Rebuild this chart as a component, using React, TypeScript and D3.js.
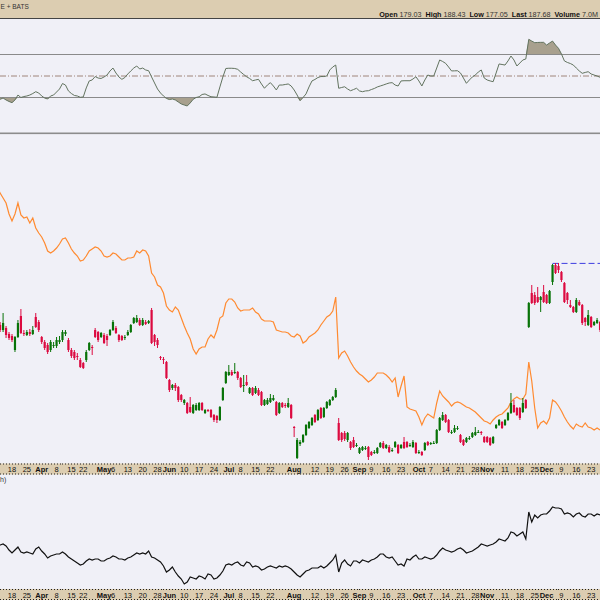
import React from 'react';
import * as d3 from 'd3';

// ---------- categories ----------
const START_DATE = '2019-03-11';
const HOLIDAYS = ['2019-04-19', '2019-05-27', '2019-07-04', '2019-09-02', '2019-11-28', '2019-12-25'];

// ---------- price candles (daily) ----------
const OPEN = [138,137.5,135,136,133,132,125,131.5,142,133.5,132.5,134,133,141.5,139,131.5,129,127.5,125,127,127,129,130,133,130,125,124,122,120,118.5,120,125,126.5,135,134,131.5,132.5,132,132.5,135,136,132.5,132,131,132.5,134,138.5,139,140,137.5,139,138.5,145,132.5,130,121.5,120.5,119,110,106,107.5,106.5,102.5,98.5,98.5,96.5,93.5,95,95,98.5,93.5,95,95,92.5,92,90,100,108.5,112.5,114,114,114,111,107.5,109,103.5,106,103.5,105,104,97.5,98,99,100,99,93.5,98.5,97.5,96.5,97.5,86.5,71,78,79,82.5,86,87.5,92.5,90,96,91.5,96,97.5,100,101.5,88.5,83.5,83.5,80,79,80,77.5,73.5,75,76,76.5,74,74,73.5,76.5,78.5,76,76.5,75,76.5,77.5,76,79,79,77.5,76.5,78.5,74,74,75,79,78.5,78.5,78.5,85,90,92.5,90,84,84,86,82.5,80,79,81,81.5,82.5,84,84,81.5,81.5,81,78.5,86,87.5,89,87.5,90,93.5,97.5,96,96,94,100,136.5,153.5,152.5,151.5,150,154,152.5,148.5,159,167.5,167,164,158.5,153.5,147.5,146.5,144,149,147.5,141,137.5,141.5,137.5,138.5,139];
const HIGH = [139,139,143.5,137,134,133,132,140,145.5,135,135,135.5,137,143.5,140,132,130,128.5,130,129,131.5,132,135,135,131,126,125,123.5,121,119,125,129,127.5,136,134.5,134,133.5,133,135.5,140,137,133,132.5,132.5,135,138,141.5,142.5,141,141,140,140,146,133,131,122,121.5,119.5,110.5,108,108.5,107,103,100.5,99,101.5,98,98.5,99,99,95.5,95.5,95.5,93,92.5,97,106.5,114.5,117.5,115,118.5,114.5,111.5,112.5,112.5,106.5,106.5,107,106,104.5,100.5,101,103,102.5,99.5,99,99,98.5,101,98,87,81,80,83,88,89.5,91.5,93,95.5,96.5,96.5,99.5,100.5,102,106,91,84,84.5,84,79.5,81.5,78.5,76.5,77,77,77,74.5,75,76.5,79,79.5,78,77.5,76,79.5,78,78,81.5,79.5,78.5,80,79,75,74.5,79,79.5,79,79.5,85.5,91.5,94,93,90.5,85,87.5,87,83,80.5,81.5,82,84,86.5,85,84.5,82,82,81.5,82,88,90.5,89.5,90.5,94,103.5,100,96.5,96.5,101,100.5,149,157.5,154,156.5,152,157.5,153,155,168,168.5,168.5,164.5,159,154,150,147,151,150,148,141.5,145,142,139.5,141,139.5];
const LOW = [135,134,134,131,130,129,124,131,133,132,132,132,132.5,136,134,128,125,123,124,126,126,128,129,132,124,121,120,120,116,115.5,119,124.5,122.5,131,129,131,128,127,132,134.5,133,129,129.5,130,132,133.5,138,138.5,137,137,137.5,138,128,127,126,120,118,110.5,104,105,104.5,99,99,97.5,93,93.5,93,94.5,94.5,94.5,93,94,91,89,88.5,89.5,99.5,108,112,112,113,110,106,104,107,103,102,103,102,97,97,97.5,98.5,99.5,92,93,96,96,96,90.5,81.5,70.5,77,78.5,82,85.5,87,88.5,89.5,90.5,91,95.5,97,99.5,101,79.5,79,79.5,79,75,76,76.5,73,74.5,75,70,72,73,73,76,75.5,75.5,73.5,74,76,73,75.5,75.5,76,76.5,76,73,73,72,74.5,77,77.5,78,78,84.5,89.5,88.5,83.5,83,83.5,85,78.5,77,78.5,80,81,82,83.5,82.5,78.5,78.5,77,78,85.5,87,85.5,87,89.5,93,93.5,92,90,93.5,95.5,136,148,147.5,148.5,144,148.5,148,148,157.5,163,163.5,159,148.5,148,146,143.5,143.5,147,137.5,137,137,136,137,138,134];
const CLOSE = [136,135,138.5,132.5,131,130,131.5,138.5,133.5,133,134,133,135,136.5,135,129,126,124,129,127.5,130,130,134,134,125,122,121,121.5,116.5,116,124,128.5,126,131.5,130,133.5,128.5,130,135,139,133.5,130,130,131.5,134,137.5,141,141,137.5,140,138,139.5,128.5,129,127.5,121,120,111,105,107.5,106,100,100,100,93.5,94,97.5,97.5,98.5,95,95,94.5,91.5,90,90,96.5,106,114,114,112.5,114,111,106.5,107.5,107.5,106,102.5,106,102.5,97.5,100,100,101,101,92.5,98.5,96.5,97,98.5,91,86,80,79,82.5,87.5,89,91,89,95,91,96,99,100,101.5,105,80,80,80.5,83.5,76,76.5,77.5,76,76.5,76,71.5,72.5,74,76,78.5,76,77.5,74,75,79,73.5,77.5,76,76.5,77.5,79,73.5,74,72.5,78.5,77.5,78.5,78.5,85,91,92.5,89,84,84,86,86,79,77.5,81,81,83.5,84,84,83.5,79,79,77.5,81.5,87.5,90,86,90,93.5,98.5,94,92.5,91,98.5,96,148.5,148.5,148.5,149,151.5,149,148.5,154.5,167.5,163.5,165,160,149,150,146.5,144,150,147.5,138.5,139,142.5,136.5,139,140,135];

// ---------- comparison line (orange) ----------
const COMPARE = [206,203.5,201,198.5,193,189.5,193,198.5,192.5,191,191.5,188.5,191,186,183.5,181.5,178.5,174.5,173.5,174.5,176,178,180.5,181,178.5,175.5,173.5,172,169.5,170,172,174.5,175.5,176.5,176,174.5,172,171.5,172,173.5,173,171.5,170,170,171,171,171.5,174.5,173.5,175,174.5,172,163.5,161.5,157.5,156.5,153.5,147,145,144,146.5,145,141,137,133.5,130.5,125.5,123,125.5,126.5,126.5,130.5,132.5,131,135,141,142,148.5,150.5,150.5,149,146,144.5,145,145,145,146,144,143,140.5,139.5,139.5,139.5,139,135,134.5,134,134,133.5,132,131.5,133,132,128.5,129.5,131.5,132.5,133.5,135,137.5,139.5,141.5,142.5,144.5,151.5,121,123.5,124.5,122,119,116.5,114.5,113,112,110.5,109,110,111.5,113.5,113.5,113.5,112.5,111,109,111,101.5,107,112,96.5,95.5,95,94.5,91.5,87.5,91,93,92,91,98.5,104.5,102,100.5,99,97,98.5,99,98.5,97.5,96.5,96,95,94,92.5,91,89.5,89,88,90,91.5,92.5,93,94.5,96,99,100.5,101.5,100.5,100.5,103,119,109.5,96,86,88.5,89.5,88,91,100,99,97,94.5,91.5,89,87,85.5,88,87,86.5,88.5,86.5,86,85,86,85];

// ---------- RSI(14) ----------
const RSI = [29.5,28.3,29.5,27.7,26.3,25.2,27.7,32.3,30.0,30.9,31.4,32.3,33.7,35.4,34.2,31.4,29.5,28.6,31.4,32.3,35.1,37.9,43.0,41.6,36.1,33.7,31.9,31.4,30.2,30.5,38.9,45.4,46.3,49.5,48.1,47.7,49.1,50.9,54.7,57.4,52.8,49.1,46.9,48.6,51.9,54.7,57.4,59.3,56.5,57.4,55.6,54.9,49.1,43.5,37.9,34.2,31.4,29.1,28.1,28.6,27.7,25.8,24.0,23.0,22.1,24.9,28.3,30.0,30.7,32.8,33.3,31.9,30.7,30.5,30.2,39.8,49.1,57.0,57.2,57.2,57.0,56.2,53.7,51.4,49.3,47.7,45.6,46.3,46.9,42.6,38.6,41.6,43.8,40.7,37.0,41.6,41.6,42.1,42.6,40.7,37.0,32.3,27.0,30.0,33.3,39.8,45.4,46.8,48.6,49.5,49.5,50.0,55.6,58.4,60.2,38.6,39.3,40.0,37.9,36.3,37.4,38.6,36.1,35.4,36.1,36.3,37.4,38.4,39.8,40.7,41.6,42.6,43.5,43.8,41.6,40.7,45.4,45.6,45.6,45.6,47.2,49.3,45.4,40.7,46.3,50.9,50.0,50.0,57.4,64.9,63.5,61.8,58.4,54.7,54.8,54.9,52.8,48.1,43.2,46.3,49.1,50.9,53.7,55.6,48.1,46.3,45.4,44.7,52.8,61.2,60.7,60.2,64.0,68.6,64.9,59.3,62.1,64.9,65.8,84.1,82.5,81.0,81.2,81.3,81.3,78.8,80.7,82.5,78.8,75.8,70.5,64.0,62.6,61.6,60.2,57.4,54.7,52.5,53.3,54.0,51.9,50.9,50.0,48.8];
const RSI_LEVELS = [70, 50, 30];

// ---------- lower panel: price relative ----------
const RELATIVE = [0.53,0.55,0.56,0.54,0.50,0.47,0.50,0.53,0.48,0.47,0.48,0.47,0.46,0.51,0.53,0.49,0.46,0.42,0.44,0.45,0.46,0.46,0.48,0.46,0.43,0.41,0.39,0.37,0.35,0.36,0.39,0.41,0.40,0.41,0.41,0.39,0.39,0.41,0.42,0.44,0.43,0.41,0.41,0.40,0.42,0.43,0.45,0.47,0.46,0.47,0.46,0.49,0.43,0.42,0.40,0.38,0.34,0.28,0.30,0.33,0.28,0.24,0.21,0.16,0.18,0.23,0.22,0.21,0.24,0.23,0.21,0.26,0.25,0.21,0.22,0.25,0.29,0.35,0.36,0.35,0.37,0.38,0.35,0.34,0.38,0.37,0.33,0.34,0.33,0.30,0.31,0.33,0.34,0.33,0.32,0.34,0.33,0.34,0.33,0.31,0.28,0.25,0.23,0.26,0.29,0.30,0.32,0.32,0.32,0.34,0.32,0.34,0.37,0.40,0.45,0.28,0.37,0.40,0.36,0.34,0.39,0.39,0.37,0.40,0.39,0.38,0.40,0.41,0.43,0.46,0.46,0.43,0.42,0.43,0.39,0.35,0.36,0.34,0.41,0.40,0.43,0.45,0.41,0.41,0.43,0.42,0.41,0.42,0.45,0.49,0.52,0.50,0.49,0.48,0.49,0.51,0.52,0.50,0.47,0.48,0.49,0.51,0.53,0.56,0.55,0.54,0.55,0.56,0.58,0.61,0.60,0.59,0.62,0.68,0.67,0.64,0.66,0.68,0.61,0.88,0.78,0.85,0.82,0.85,0.86,0.86,0.89,0.93,0.92,0.92,0.91,0.86,0.87,0.86,0.83,0.86,0.87,0.84,0.83,0.86,0.86,0.84,0.86,0.85];

// ---------- axis tick labels ----------
const TICK_DATES = ['2019-03-18','2019-03-25','2019-04-01','2019-04-08','2019-04-15','2019-04-22','2019-05-01','2019-05-06','2019-05-13','2019-05-20','2019-05-28','2019-06-03','2019-06-10','2019-06-17','2019-06-24','2019-07-01','2019-07-08','2019-07-15','2019-07-22','2019-08-01','2019-08-12','2019-08-19','2019-08-26','2019-09-03','2019-09-09','2019-09-16','2019-09-23','2019-10-01','2019-10-07','2019-10-14','2019-10-21','2019-10-28','2019-11-01','2019-11-11','2019-11-18','2019-11-25','2019-12-02','2019-12-09','2019-12-16','2019-12-23'];
const TICK_LABELS = ['18','25','Apr','8','15','22','May','6','13','20','28','Jun','10','17','24','Jul','8','15','22','Aug','12','19','26','Sep','9','16','23','Oct','7','14','21','28','Nov','11','18','25','Dec','9','16','23'];

// ---------- header ----------
const EXCHANGE = 'E + BATS';
const HEADER_NAMES = ['Open', 'High', 'Low', 'Last', 'Volume'];
const HEADER_VALUES = ['179.03', '188.43', '177.05', '187.68', '7.0M'];
const RESIST_LEVEL = 168.3;
const RESIST_FROM = '2019-12-04';
const LOWER_LABEL = 'h)';

function iso(d: Date) {
  return d3.timeFormat('%Y-%m-%d')(d);
}
function tradingDays(start: string, count: number): string[] {
  const out: string[] = [];
  let d = d3.timeParse('%Y-%m-%d')(start) as Date;
  while (out.length < count) {
    const s = iso(d);
    const wd = d.getDay();
    if (wd !== 0 && wd !== 6 && !HOLIDAYS.includes(s)) out.push(s);
    d = d3.timeDay.offset(d, 1);
  }
  return out;
}

const TAN = '#dccdb1';
const PANEL = '#f0f0f7';
const FONT = '"Liberation Sans", Arial, sans-serif';

export default function App() {
  const N = CLOSE.length;
  const days = tradingDays(START_DATE, N);
  const idx = (s: string) => days.indexOf(s);

  const x = d3.scaleLinear().domain([0, N - 1]).range([-2.85, 600.06]);
  const yMain = d3.scaleLinear().domain([69, 233]).range([462, 134]);
  const yRsi = d3.scaleLinear().domain([0, 100]).range([129.75, 22.25]);
  const yRel = d3.scaleLinear().domain([0.12, 1.25]).range([588, 475]);

  const orangeLine = d3.line<number>().x((_, i) => x(i)).y(d => yMain(d))(COMPARE) || '';
  const rsiLine = d3.line<number>().x((_, i) => x(i)).y(d => yRsi(d))(RSI) || '';
  const rsiHigh = d3.area<number>().x((_, i) => x(i)).y0(yRsi(70)).y1(d => yRsi(Math.max(d, 70)))(RSI) || '';
  const rsiLow = d3.area<number>().x((_, i) => x(i)).y0(yRsi(30)).y1(d => yRsi(Math.min(d, 30)))(RSI) || '';
  const relLine = d3.line<number>().x((_, i) => x(i)).y(d => yRel(d))(RELATIVE) || '';

  const UP = '#087308';
  const DOWN = '#dc0a40';

  const axisBand = (top: number, key: string) => (
    <g key={key}>
      <rect x={0} y={top} width={600} height={11} fill={TAN} />
      {days.map((_, i) => (
        <g key={i}>
          <rect x={Math.round(x(i))} y={top} width={1} height={1} fill="#222" />
          <rect x={Math.round(x(i))} y={top + 10} width={1} height={1} fill="#222" />
        </g>
      ))}
      {TICK_DATES.map((dt, k) => {
        const i = idx(dt);
        if (i < 0) return null;
        const bold = isNaN(+TICK_LABELS[k]);
        return (
          <text key={dt} x={x(i)} y={top + 8.5} fontSize={7.5} textAnchor="middle"
            fontWeight={bold ? 'bold' : 'normal'} fill="#111" fontFamily={FONT}>
            {TICK_LABELS[k]}
          </text>
        );
      })}
    </g>
  );

  const headerChildren: React.ReactNode[] = [];
  HEADER_NAMES.forEach((n, k) => {
    headerChildren.push(<tspan key={'n' + k} fontWeight="bold" fill="#111">{(k ? '  ' : '') + n}</tspan>);
    headerChildren.push(<tspan key={'v' + k} fill="#333">{' ' + HEADER_VALUES[k]}</tspan>);
  });

  const rStart = idx(RESIST_FROM);

  return (
    <svg width={600} height={600} style={{ position: 'absolute', left: 0, top: 0, display: 'block' }}>
      <rect x={0} y={0} width={600} height={600} fill={PANEL} />
      {/* header */}
      <rect x={0} y={0} width={600} height={18} fill={TAN} />
      <text x={0.5} y={8.5} fontSize={6.5} fill="#333" fontFamily={FONT}>{EXCHANGE}</text>
      <text x={598} y={16.5} fontSize={7.2} textAnchor="end" fontFamily={FONT} xmlSpace="preserve">{headerChildren}</text>
      <rect x={0} y={18} width={600} height={1} fill="#444" />

      {/* RSI panel */}
      <path d={rsiHigh} fill="#a8a08e" />
      <path d={rsiLow} fill="#a8a08e" />
      {RSI_LEVELS.map(l => (
        <line key={l} x1={0} x2={600} y1={yRsi(l)} y2={yRsi(l)}
          stroke={l === 50 ? '#8c6a5c' : '#8a8a8a'} strokeWidth={l === 50 ? 0.8 : 1.2}
          strokeDasharray={l === 50 ? '6,2,1,2' : undefined} />
      ))}
      <path d={rsiLine} fill="none" stroke="#62735f" strokeWidth={1} />
      <rect x={0} y={132.5} width={600} height={1.6} fill="#8c8c8c" />

      {/* main panel */}
      <path d={orangeLine} fill="none" stroke="#ff8a30" strokeWidth={1.2} />
      {rStart >= 0 && (
        <line x1={x(rStart)} x2={600} y1={yMain(RESIST_LEVEL)} y2={yMain(RESIST_LEVEL)}
          stroke="#3d3de0" strokeWidth={1} strokeDasharray="6,3" />
      )}
      {CLOSE.map((c, i) => {
        const o = OPEN[i];
        const up = c >= o;
        const col = up ? UP : DOWN;
        const cx = x(i);
        const top = yMain(Math.max(o, c));
        const bot = yMain(Math.min(o, c));
        return (
          <g key={i}>
            <line x1={cx} x2={cx} y1={yMain(HIGH[i])} y2={yMain(LOW[i])} stroke={col} strokeWidth={1} />
            <rect x={cx - 1.1} y={top} width={2.2} height={Math.max(1, bot - top)} fill={col} />
          </g>
        );
      })}

      {axisBand(463.5, 'a1')}

      {/* lower panel */}
      <text x={0} y={482} fontSize={7} fill="#333" fontFamily={FONT}>{LOWER_LABEL}</text>
      <path d={relLine} fill="none" stroke="#111" strokeWidth={1.2} />

      {axisBand(589, 'a2')}
    </svg>
  );
}
